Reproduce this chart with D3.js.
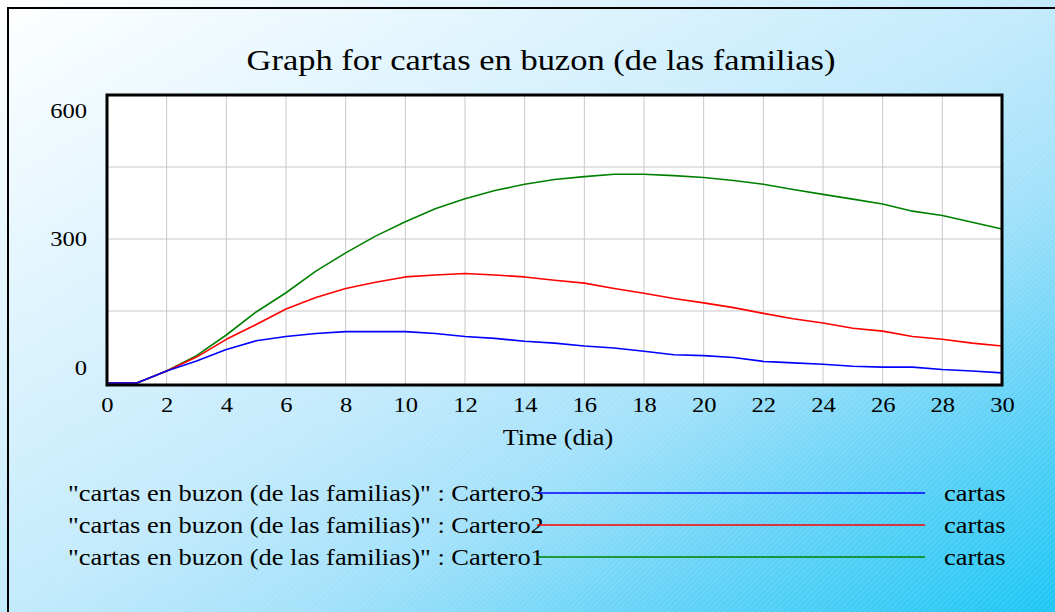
<!DOCTYPE html>
<html><head><meta charset="utf-8">
<script src="https://cdn.jsdelivr.net/npm/d3@7"></script>
<style>body{margin:0;background:#fff}svg{display:block}</style>
</head><body>
<svg id="chart" width="1055" height="612"></svg>
<script>
// ---- data ----
const days = [0,1,2,3,4,5,6,7,8,9,10,11,12,13,14,15,16,17,18,19,20,21,22,23,24,25,26,27,28,29,30];
const cartero1 = [0,0,25,57,100,148,188,233,271,306,336,363,384,401,414,424,430,435,435,432,428,422,414,403,393,383,373,358,349,335,321];
const cartero2 = [0,0,25,54,91,122,154,178,197,210,221,225,228,225,221,214,208,197,187,176,167,157,145,134,125,114,108,97,91,83,77];
const cartero3 = [0,0,25,46,70,88,97,103,107,107,107,103,97,93,87,83,77,73,66,59,57,53,45,42,39,35,33,33,28,25,21];
const xTicks = [0,2,4,6,8,10,12,14,16,18,20,22,24,26,28,30];
const yTicks = [0,300,600];
const yGrid = [150,300,450];
const seriesNames = ["Cartero3","Cartero2","Cartero1"];
const seriesColors = ["#0000ff","#ff0000","#008000"];
const seriesData = [cartero3, cartero2, cartero1];
const titleText = "Graph for cartas en buzon (de las familias)";
const xLabel = "Time (dia)";
const varName = "\"cartas en buzon (de las familias)\"";
const unitText = "cartas";

// ---- layout ----
const W = 1055, H = 612;
const FONT = "'Liberation Serif','Times New Roman',serif";
const plot = {left:107, right:1002, top:95, bottom:385};

const svg = d3.select("#chart");
const defs = svg.append("defs");
const grad = defs.append("linearGradient").attr("id","bg")
  .attr("x1",0).attr("y1",0).attr("x2",1).attr("y2",1);
[[0,"#ffffff"],[0.5,"#c2eafc"],[0.65,"#a2e1fa"],[0.8,"#66d3f7"],[1,"#1cc6f5"]]
  .forEach(([o,c]) => grad.append("stop").attr("offset",o).attr("stop-color",c));
const pat = defs.append("pattern").attr("id","hatch")
  .attr("width",4).attr("height",4).attr("patternUnits","userSpaceOnUse")
  .attr("patternTransform","rotate(45)");
pat.append("line").attr("x1",0).attr("y1",0).attr("x2",0).attr("y2",4)
  .attr("stroke","#ffffff").attr("stroke-opacity",0.25).attr("stroke-width",1);

svg.append("rect").attr("width",W).attr("height",H).attr("fill","url(#bg)");
svg.append("rect").attr("width",W).attr("height",H).attr("fill","url(#hatch)");
svg.append("path").attr("d","M8,612V8H1055").attr("fill","none")
  .attr("stroke","#000").attr("stroke-width",2);

function stretchedText(x, y, txt, size, sx, anchor) {
  return svg.append("g").attr("transform",`translate(${x},${y}) scale(${sx},1)`)
    .append("text").attr("x",0).attr("y",0)
    .attr("font-family",FONT).attr("font-size",size)
    .attr("text-anchor",anchor||"start").attr("fill","#000").text(txt);
}

// title
stretchedText(541, 70, titleText, 30, 1.15, "middle");

// scales
const x = d3.scaleLinear().domain([0,30]).range([plot.left, plot.right]);
const y = d3.scaleLinear().domain([0,600]).range([383, plot.top]);

// plot background
svg.append("rect").attr("x",plot.left).attr("y",plot.top)
  .attr("width",plot.right-plot.left).attr("height",plot.bottom-plot.top).attr("fill","#fff");

// grid
const grid = svg.append("g").attr("stroke","#c8c8c8").attr("stroke-width",1);
grid.selectAll("line.v").data(xTicks.slice(1,-1)).join("line")
  .attr("x1",d=>x(d)).attr("x2",d=>x(d)).attr("y1",plot.top).attr("y2",plot.bottom);
grid.selectAll("line.h").data(yGrid).join("line")
  .attr("x1",plot.left).attr("x2",plot.right).attr("y1",d=>y(d)).attr("y2",d=>y(d));

// lines (draw Cartero1 first, Cartero3 on top)
const line = d3.line().x((d,i)=>x(days[i])).y(d=>y(d));
[2,1,0].forEach(k => {
  svg.append("path").datum(seriesData[k]).attr("d",line)
    .attr("fill","none").attr("stroke",seriesColors[k]).attr("stroke-width",1.6)
    .attr("stroke-linejoin","round");
});

// frame
svg.append("rect").attr("x",plot.left).attr("y",plot.top)
  .attr("width",plot.right-plot.left).attr("height",plot.bottom-plot.top)
  .attr("fill","none").attr("stroke","#000").attr("stroke-width",3);

// x axis
const TS = 1.17;
const xAxis = svg.append("g").attr("transform",`translate(0,${plot.bottom})`)
  .call(d3.axisBottom(x).tickValues(xTicks).tickSize(0).tickPadding(12).tickFormat(d3.format("d")));
xAxis.select(".domain").remove();
xAxis.selectAll("text").attr("font-family",FONT).attr("font-size",21).attr("fill","#000")
  .attr("transform",`scale(${TS},1)`);

// y axis
const yAxis = svg.append("g").attr("transform",`translate(${plot.left},0)`)
  .call(d3.axisLeft(y).tickValues(yTicks).tickSize(0).tickPadding(17).tickFormat(d3.format("d")));
yAxis.select(".domain").remove();
yAxis.selectAll("text").attr("font-family",FONT).attr("font-size",21).attr("fill","#000")
  .attr("transform",`scale(${TS},1)`)
  .attr("dy", d => d===600 ? "1.05em" : d===0 ? "-0.4em" : "0.33em");

// x label
stretchedText(558, 445, xLabel, 23, 1.14, "middle");

// legend
const legY = [493, 525, 557];
seriesNames.forEach((nm,i) => {
  stretchedText(68, legY[i]+8, `${varName} : ${nm}`, 23, 1.15, "start");
  svg.append("line").attr("x1",537).attr("x2",925).attr("y1",legY[i]).attr("y2",legY[i])
    .attr("stroke",seriesColors[i]).attr("stroke-width",1.6);
  stretchedText(944, legY[i]+8, unitText, 23, 1.15, "start");
});
</script>
</body></html>
